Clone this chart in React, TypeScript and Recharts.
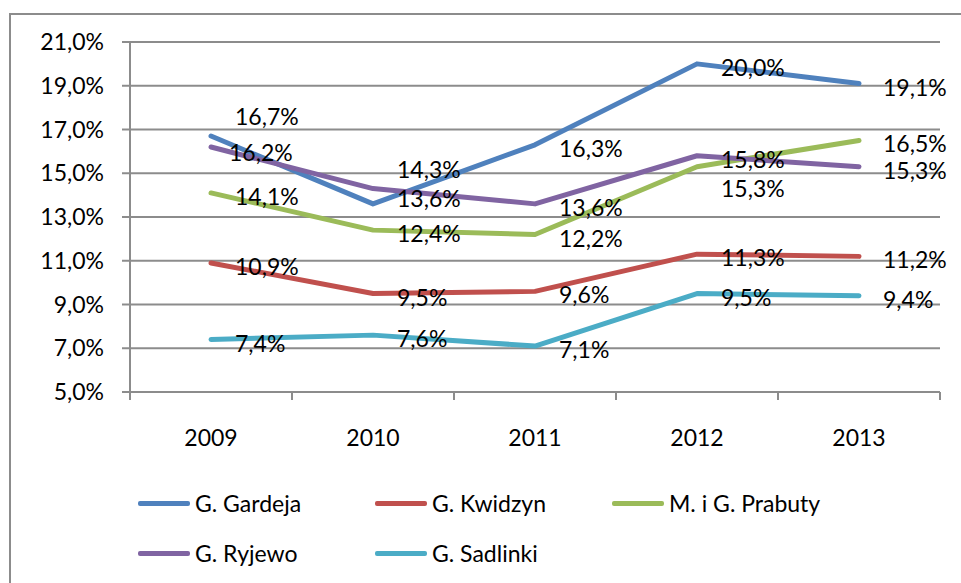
import { CartesianGrid, LabelList, Line, LineChart, XAxis, YAxis } from 'recharts';

const years = ['2009', '2010', '2011', '2012', '2013'];
const gardeja = [16.7, 13.6, 16.3, 20.0, 19.1];
const kwidzyn = [10.9, 9.5, 9.6, 11.3, 11.2];
const prabuty = [14.1, 12.4, 12.2, 15.3, 16.5];
const ryjewo = [16.2, 14.3, 13.6, 15.8, 15.3];
const sadlinki = [7.4, 7.6, 7.1, 9.5, 9.4];
const yTicks = [5, 7, 9, 11, 13, 15, 17, 19, 21];

const series = [
  { key: 'gardeja', name: 'G. Gardeja', color: '#4F81BD', values: gardeja },
  { key: 'kwidzyn', name: 'G. Kwidzyn', color: '#C0504D', values: kwidzyn },
  { key: 'prabuty', name: 'M. i G. Prabuty', color: '#9BBB59', values: prabuty },
  { key: 'ryjewo', name: 'G. Ryjewo', color: '#8064A2', values: ryjewo },
  { key: 'sadlinki', name: 'G. Sadlinki', color: '#4BACC6', values: sadlinki },
];

const data = years.map((year, i) => {
  const row: Record<string, string | number> = { year };
  series.forEach((s) => {
    row[s.key] = s.values[i];
  });
  return row;
});

// hand-moved labels, like in the original sheet
const labelNudge: Record<string, Record<number, [number, number]>> = {
  gardeja: { 0: [0, -23], 1: [0, -9] },
  ryjewo: { 0: [-6, 2], 1: [0, -23] },
  prabuty: { 3: [0, 18] },
};

const FONT = 'Lato, "DejaVu Sans", sans-serif';
const GRID = '#8c8c8c';
const BAND = (940 - 130) / years.length;

const pct = (v: number) => `${v.toFixed(1).replace('.', ',')}%`;

const makeLabel = (key: string) => (props: any) => {
  const { x, y, value, index } = props;
  const [dx, dy] = labelNudge[key]?.[index] ?? [0, 0];
  return (
    <text
      x={x + 24 + dx}
      y={y + 3 + dy}
      fontSize={23}
      fontFamily={FONT}
      fill="#000"
      textAnchor="start"
      dominantBaseline="central"
    >
      {pct(Number(value))}
    </text>
  );
};

const YearTick = (props: any) => {
  const { x, y, payload, index } = props;
  return (
    <g>
      <line x1={x - BAND / 2} x2={x - BAND / 2} y1={y} y2={y + 8} stroke={GRID} strokeWidth={2} />
      {index === years.length - 1 && (
        <line x1={x + BAND / 2} x2={x + BAND / 2} y1={y} y2={y + 8} stroke={GRID} strokeWidth={2} />
      )}
      <text x={x} y={y + 45} textAnchor="middle" dominantBaseline="central" fontSize={23} fontFamily={FONT} fill="#000">
        {payload.value}
      </text>
    </g>
  );
};

export default function App() {
  return (
    <div
      style={{
        position: 'absolute',
        left: 0,
        top: 0,
        width: 961,
        height: 583,
        overflow: 'hidden',
        background: '#fff',
        fontFamily: FONT,
      }}
    >
      <div
        style={{
          position: 'absolute',
          left: 9,
          top: 13,
          width: 1000,
          height: 1000,
          border: `2px solid ${GRID}`,
        }}
      />
      <div style={{ position: 'absolute', left: 0, top: 0 }}>
        <LineChart width={961} height={583} data={data} margin={{ top: 42, right: 21, left: 0, bottom: 131 }}>
          <CartesianGrid vertical={false} stroke={GRID} strokeWidth={2} />
          <XAxis
            dataKey="year"
            height={60}
            padding={{ left: BAND / 2, right: BAND / 2 }}
            tickSize={0}
            tickMargin={0}
            tickLine={false}
            axisLine={{ stroke: GRID, strokeWidth: 2 }}
            tick={<YearTick />}
            interval={0}
          />
          <YAxis
            width={130}
            domain={[5, 21]}
            ticks={yTicks}
            tickFormatter={pct}
            tickSize={8}
            tickMargin={18}
            tickLine={{ stroke: GRID, strokeWidth: 2 }}
            axisLine={{ stroke: GRID, strokeWidth: 2 }}
            tick={{ fill: '#000', fontSize: 23, fontFamily: FONT }}
            interval={0}
          />
          {series.map((s) => (
            <Line
              key={s.key}
              dataKey={s.key}
              name={s.name}
              stroke={s.color}
              strokeWidth={5}
              strokeLinecap="round"
              strokeLinejoin="round"
              dot={false}
              activeDot={false}
              isAnimationActive={false}
            />
          ))}
          {series.map((s) => (
            <Line
              key={`${s.key}-labels`}
              dataKey={s.key}
              stroke="none"
              dot={false}
              activeDot={false}
              legendType="none"
              isAnimationActive={false}
            >
              <LabelList dataKey={s.key} content={makeLabel(s.key)} />
            </Line>
          ))}
        </LineChart>
      </div>
      {series.map((s, i) => (
        <div
          key={s.key}
          style={{
            position: 'absolute',
            left: 138 + (i % 3) * 237,
            top: (i < 3 ? 503 : 553) - 15,
            height: 30,
            display: 'flex',
            alignItems: 'center',
            fontSize: 23,
            color: '#000',
            whiteSpace: 'nowrap',
          }}
        >
          <span style={{ display: 'inline-block', width: 52, height: 5, borderRadius: 2, background: s.color }} />
          <span style={{ marginLeft: 5 }}>{s.name}</span>
        </div>
      ))}
    </div>
  );
}
